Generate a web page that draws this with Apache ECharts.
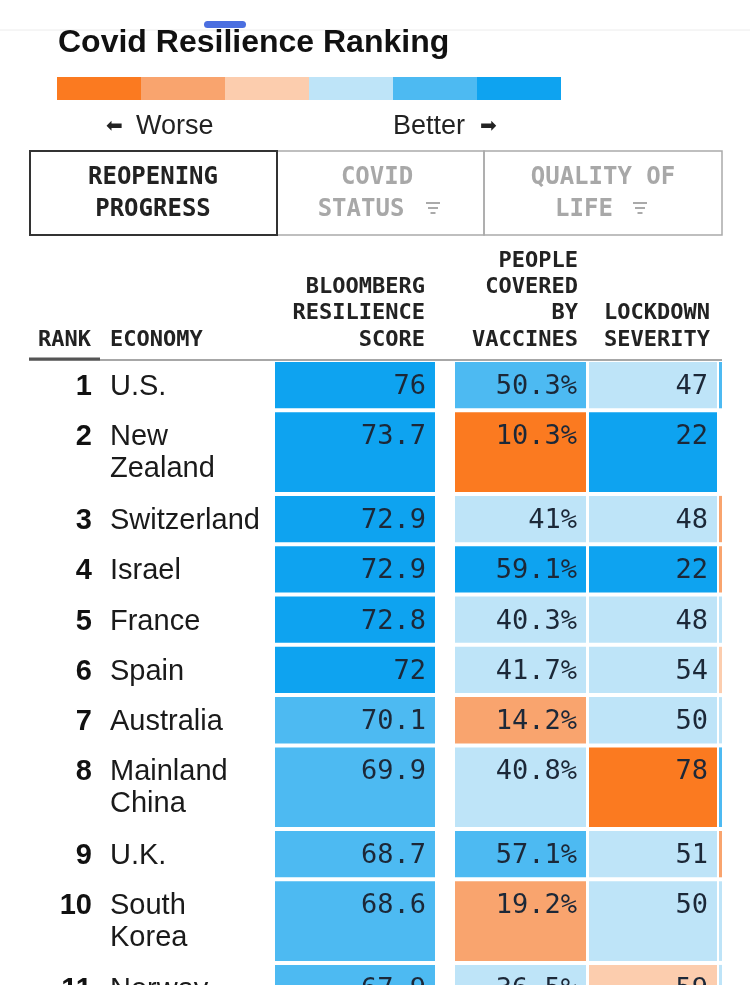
<!DOCTYPE html>
<html><head><meta charset="utf-8">
<script src="https://cdn.jsdelivr.net/npm/echarts@6/dist/echarts.min.js"></script>
<style>html,body{margin:0;padding:0;background:#fff}#c{width:750px;height:985px}</style>
</head><body><div id="c"></div>
<script>
// ---- data ----
const ranks = [1, 2, 3, 4, 5, 6, 7, 8, 9, 10, 11];
const economies = ['U.S.', 'New\nZealand', 'Switzerland', 'Israel', 'France', 'Spain', 'Australia', 'Mainland\nChina', 'U.K.', 'South\nKorea', 'Norway'];
const resilienceScore = [76, 73.7, 72.9, 72.9, 72.8, 72, 70.1, 69.9, 68.7, 68.6, 67.9];
const vaccineCoverage = [50.3, 10.3, 41, 59.1, 40.3, 41.7, 14.2, 40.8, 57.1, 19.2, 36.5];
const lockdownSeverity = [47, 22, 48, 22, 48, 54, 50, 78, 51, 50, 59];
// colour class: 0 = worst ... 5 = best
const scoreClass = [5, 5, 5, 5, 5, 5, 4, 4, 4, 4, 4];
const vaccineClass = [4, 0, 3, 5, 3, 3, 1, 3, 4, 1, 3];
const lockdownClass = [3, 5, 3, 5, 3, 3, 3, 0, 3, 3, 2];
const nextColumnClass = [4, null, 1, 1, 3, 2, 3, 4, 1, 3, 3];
const classLevels = [0, 1, 2, 3, 4, 5];
const columnHeaders = [['BLOOMBERG', 'RESILIENCE', 'SCORE'], ['PEOPLE', 'COVERED', 'BY', 'VACCINES'], ['LOCKDOWN', 'SEVERITY']];
const tabLabels = [['REOPENING', 'PROGRESS'], ['COVID', 'STATUS'], ['QUALITY OF', 'LIFE']];
const titleText = 'Covid Resilience Ranking';
const worseText = 'Worse';
const betterText = 'Better';

// ---- style / layout ----
const palette = ['#FB7A20', '#F9A46E', '#FCCDAE', '#BEE4F8', '#4DBAF2', '#0EA3F0'];
const SANS = '"Liberation Sans", Arial, sans-serif';
const MONO = '"DejaVu Sans Mono", monospace';
const colEdges = [[275, 435], [455, 586], [589, 717], [719, 722]];
const TABLE_TOP = 360, VIEW_H = 985;

const lines = economies.map(e => e.split('\n').length);
const rowHeight = lines.map(n => 17 + 33.3 * n);
const rowStart = [];
let acc = 0;
rowHeight.forEach(h => { rowStart.push(acc); acc += h; });

const columns = [
  { values: resilienceScore, classes: scoreClass, fmt: v => String(v) },
  { values: vaccineCoverage, classes: vaccineClass, fmt: v => v + '%' },
  { values: lockdownSeverity, classes: lockdownClass, fmt: v => String(v) },
  { values: null, classes: nextColumnClass }
];
const cellData = [];
columns.forEach((col, c) => col.classes.forEach((k, r) => { if (k !== null) cellData.push([c, r, k]); }));
const rowData = ranks.map((r, i) => [i]);

function renderCell(params, api) {
  const c = api.value(0), r = api.value(1);
  const e = colEdges[c];
  const a = api.coord([e[0], rowStart[r]]);
  const b = api.coord([e[1], rowStart[r] + rowHeight[r]]);
  const col = columns[c];
  const children = [{
    type: 'rect',
    shape: { x: a[0], y: a[1] + 2, width: b[0] - a[0], height: b[1] - a[1] - 4 },
    style: { fill: api.visual('color') }
  }];
  if (col.values) {
    children.push({
      type: 'text', x: b[0] - 9, y: a[1] + 27,
      style: { text: col.fmt(col.values[r]), font: '27px ' + MONO, fill: '#1c2838', align: 'right', verticalAlign: 'middle' }
    });
  }
  return { type: 'group', children };
}

function renderRow(params, api) {
  const i = api.value(0);
  const p = api.coord([92, rowStart[i]]);
  const q = api.coord([110, rowStart[i]]);
  return {
    type: 'group',
    children: [
      { type: 'text', x: p[0], y: p[1] + 27, style: { text: String(ranks[i]), font: 'bold 29px ' + SANS, fill: '#111', align: 'right', verticalAlign: 'middle' } },
      { type: 'text', x: q[0], y: q[1] + 11, style: { text: economies[i], font: '29px ' + SANS, lineHeight: 32, fill: '#1a1a1a', align: 'left', verticalAlign: 'top' } }
    ]
  };
}

// ---- static graphics ----
const g = [];
g.push({ type: 'line', shape: { x1: 0, y1: 30, x2: 750, y2: 30 }, style: { stroke: '#ececec', lineWidth: 1 } });
g.push({ type: 'rect', shape: { x: 204, y: 21, width: 42, height: 7, r: 3.5 }, style: { fill: '#4b6fe0' } });
g.push({ type: 'text', x: 58, y: 43, style: { text: titleText, font: 'bold 32px ' + SANS, fill: '#111', verticalAlign: 'middle' } });
g.push({ type: 'text', x: 106, y: 127, style: { text: '\u2B05', font: '20px "DejaVu Sans"', fill: '#222', verticalAlign: 'middle' } });
g.push({ type: 'text', x: 136, y: 127, style: { text: worseText, font: '27px ' + SANS, fill: '#222', verticalAlign: 'middle' } });
g.push({ type: 'text', x: 393, y: 127, style: { text: betterText, font: '27px ' + SANS, fill: '#222', verticalAlign: 'middle' } });
g.push({ type: 'text', x: 480, y: 127, style: { text: '\u27A1', font: '20px "DejaVu Sans"', fill: '#222', verticalAlign: 'middle' } });
// tabs
g.push({ type: 'rect', shape: { x: 277, y: 151, width: 207, height: 84 }, style: { fill: 'none', stroke: '#aaa', lineWidth: 1.5 } });
g.push({ type: 'rect', shape: { x: 484, y: 151, width: 238, height: 84 }, style: { fill: 'none', stroke: '#aaa', lineWidth: 1.5 } });
g.push({ type: 'rect', shape: { x: 30, y: 151, width: 247, height: 84 }, style: { fill: 'none', stroke: '#333', lineWidth: 2 } });
const tabCenters = [[153, 153], [377, 361], [603, 584]];
const tabColors = ['#222', '#a8a8a8', '#a8a8a8'];
tabLabels.forEach((t, i) => {
  g.push({ type: 'text', x: tabCenters[i][0], y: 178, style: { text: t[0], font: 'bold 24px ' + MONO, fill: tabColors[i], align: 'center', verticalAlign: 'middle' } });
  g.push({ type: 'text', x: tabCenters[i][1], y: 210, style: { text: t[1], font: 'bold 24px ' + MONO, fill: tabColors[i], align: 'center', verticalAlign: 'middle' } });
});
[433, 640].forEach(cx => {
  [[203, 7], [208, 5], [213, 2.5]].forEach(([y, w]) => {
    g.push({ type: 'line', shape: { x1: cx - w, y1: y, x2: cx + w, y2: y }, style: { stroke: '#aaa', lineWidth: 2 } });
  });
});
// column headers
const HF = 'bold 22px ' + MONO;
g.push({ type: 'text', x: 38, y: 340, style: { text: 'RANK', font: HF, fill: '#222', verticalAlign: 'middle' } });
g.push({ type: 'text', x: 110, y: 340, style: { text: 'ECONOMY', font: HF, fill: '#222', verticalAlign: 'middle' } });
const headerRight = [425, 578, 710];
columnHeaders.forEach((h, c) => {
  h.forEach((t, k) => {
    g.push({ type: 'text', x: headerRight[c], y: 340 - (h.length - 1 - k) * 26.3, style: { text: t, font: HF, fill: '#222', align: 'right', verticalAlign: 'middle' } });
  });
});
g.push({ type: 'line', shape: { x1: 29, y1: 360, x2: 722, y2: 360 }, style: { stroke: '#8a8a8a', lineWidth: 1.5 } });
g.push({ type: 'line', shape: { x1: 29, y1: 359, x2: 100, y2: 359 }, style: { stroke: '#555', lineWidth: 3 } });

const chart = echarts.init(document.getElementById('c'));
chart.setOption({
  animation: false,
  backgroundColor: '#fff',
  grid: { left: 0, width: 750, top: TABLE_TOP, height: VIEW_H - TABLE_TOP },
  xAxis: { type: 'value', min: 0, max: 750, show: false },
  yAxis: { type: 'value', min: 0, max: VIEW_H - TABLE_TOP, inverse: true, show: false },
  visualMap: {
    type: 'piecewise', seriesIndex: 0, dimension: 2, orient: 'horizontal',
    left: 57, top: 77, itemWidth: 84, itemHeight: 23, itemGap: 0, padding: 0,
    showLabel: false, selectedMode: false, itemSymbol: 'rect', hoverLink: false,
    pieces: classLevels.map(v => ({ value: v, color: palette[v] }))
  },
  series: [
    { type: 'custom', renderItem: renderCell, data: cellData, encode: { x: 0, y: 1 }, silent: true },
    { type: 'custom', renderItem: renderRow, data: rowData, silent: true }
  ],
  graphic: g
});
</script></body></html>
